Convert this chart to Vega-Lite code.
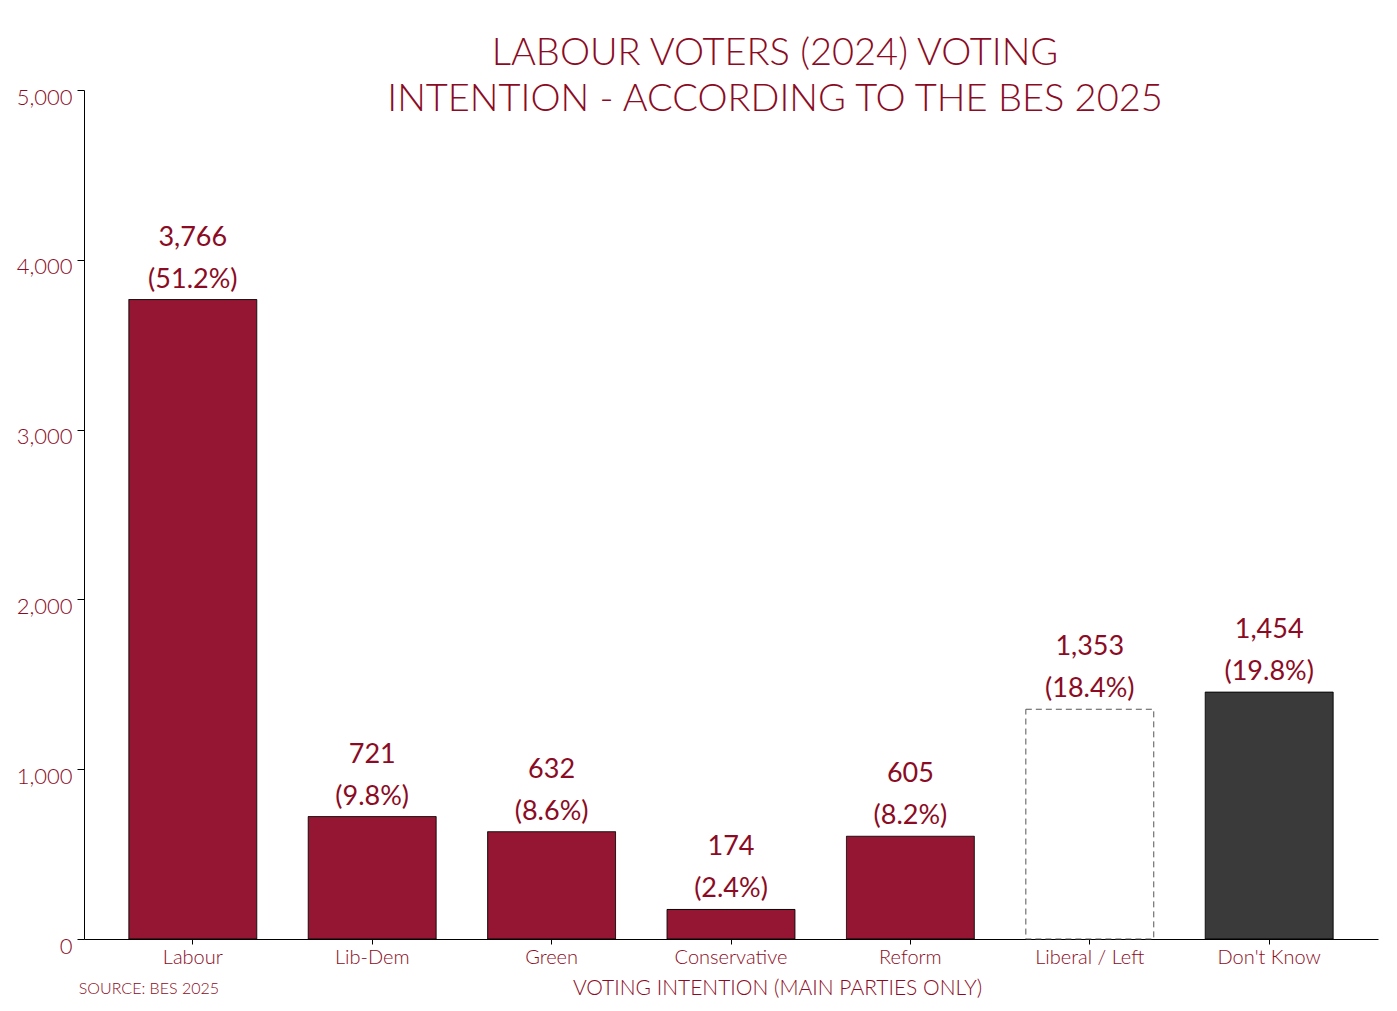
{
  "$schema": "https://vega.github.io/schema/vega-lite/v6.json",
  "width": 1294,
  "height": 849,
  "autosize": {"type": "none"},
  "padding": {"left": 84, "top": 90, "right": 19, "bottom": 72},
  "background": "white",
  "title": {
    "text": ["LABOUR VOTERS (2024) VOTING", "INTENTION - ACCORDING TO THE BES 2025"],
    "anchor": "middle",
    "dx": 44,
    "offset": -63,
    "baseline": "alphabetic",
    "lineHeight": 46,
    "font": "Lato",
    "fontSize": 38,
    "fontWeight": 300,
    "color": "#8B0B24"
  },
  "config": {
    "view": {"stroke": null},
    "font": "Lato",
    "axis": {"labelFont": "Lato", "titleFont": "Lato", "domainColor": "black", "tickColor": "black", "labelColor": "#8B0B24", "titleColor": "#8B0B24", "grid": false}
  },
  "data": {
    "values": [
      {"party": "Labour", "value": 3766, "pct": "(51.2%)", "kind": "main"},
      {"party": "Lib-Dem", "value": 721, "pct": "(9.8%)", "kind": "main"},
      {"party": "Green", "value": 632, "pct": "(8.6%)", "kind": "main"},
      {"party": "Conservative", "value": 174, "pct": "(2.4%)", "kind": "main"},
      {"party": "Reform", "value": 605, "pct": "(8.2%)", "kind": "main"},
      {"party": "Liberal / Left", "value": 1353, "pct": "(18.4%)", "kind": "left"},
      {"party": "Don't Know", "value": 1454, "pct": "(19.8%)", "kind": "dk"}
    ]
  },
  "layer": [
    {
      "mark": {"type": "bar", "strokeWidth": 1},
      "encoding": {
        "x": {
          "field": "party",
          "type": "nominal",
          "sort": null,
          "scale": {"paddingInner": 0.287, "paddingOuter": 0.25},
          "axis": {
            "title": "VOTING INTENTION (MAIN PARTIES ONLY)",
            "labelAngle": 0,
            "labelFontSize": 20,
            "labelFontWeight": 300,
            "labelPadding": 3,
            "tickSize": 5,
            "titleFontSize": 21,
            "titleFontWeight": 300,
            "titlePadding": 10,
            "titleX": 693
          }
        },
        "y": {
          "field": "value",
          "type": "quantitative",
          "scale": {"domain": [0, 5000], "nice": false},
          "axis": {
            "title": null,
            "values": [0, 1000, 2000, 3000, 4000, 5000],
            "format": ",d",
            "labelFontSize": 22,
            "labelFontWeight": 300,
            "labelOffset": 7,
            "tickSize": 7,
            "labelPadding": 5
          }
        },
        "fill": {
          "field": "kind",
          "type": "nominal",
          "scale": {"domain": ["main", "left", "dk"], "range": ["#941632", "#FFFFFF", "#3A3A3A"]},
          "legend": null
        },
        "stroke": {
          "field": "kind",
          "type": "nominal",
          "scale": {"domain": ["main", "left", "dk"], "range": ["#000000", "#555555", "#000000"]},
          "legend": null
        },
        "strokeDash": {
          "field": "kind",
          "type": "nominal",
          "scale": {"domain": ["main", "left", "dk"], "range": [[1, 0], [6, 4], [1, 0]]},
          "legend": null
        }
      }
    },
    {
      "mark": {"type": "text", "baseline": "alphabetic", "dy": -12, "fontSize": 27, "fontWeight": 400, "color": "#8B0B24", "font": "Lato"},
      "encoding": {
        "x": {"field": "party", "type": "nominal", "sort": null},
        "y": {"field": "value", "type": "quantitative"},
        "text": {"field": "pct"}
      }
    },
    {
      "mark": {"type": "text", "baseline": "alphabetic", "dy": -54, "fontSize": 27, "fontWeight": 400, "color": "#8B0B24", "font": "Lato"},
      "encoding": {
        "x": {"field": "party", "type": "nominal", "sort": null},
        "y": {"field": "value", "type": "quantitative"},
        "text": {"field": "value", "format": ","}
      }
    },
    {
      "data": {"values": [{"party": "Labour", "base": 0, "source": "SOURCE: BES 2025"}]},
      "mark": {"type": "text", "align": "left", "baseline": "alphabetic", "dx": -114, "dy": 55, "fontSize": 16, "fontWeight": 300, "color": "#8B0B24", "font": "Lato"},
      "encoding": {
        "x": {"field": "party", "type": "nominal", "sort": null},
        "y": {"field": "base", "type": "quantitative"},
        "text": {"field": "source"}
      }
    }
  ]
}
